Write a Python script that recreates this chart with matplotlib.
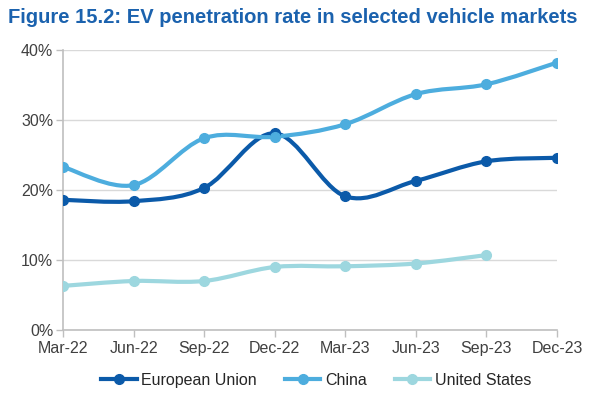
import numpy as np
import matplotlib.pyplot as plt
from matplotlib.path import Path
from matplotlib.patches import PathPatch
from matplotlib.lines import Line2D

# data (%)
quarters = ['Mar-22', 'Jun-22', 'Sep-22', 'Dec-22', 'Mar-23', 'Jun-23', 'Sep-23', 'Dec-23']
eu = [18.6, 18.4, 20.3, 28.1, 19.1, 21.3, 24.1, 24.6]
china = [23.3, 20.7, 27.4, 27.6, 29.4, 33.7, 35.1, 38.2]
us = [6.3, 7.0, 7.0, 9.0, 9.1, 9.5, 10.7]

series = [
    ('European Union', eu, '#0B5AA9'),
    ('China', china, '#4DADDE'),
    ('United States', us, '#9DD7DF'),
]

plt.rcParams['font.family'] = ['Liberation Sans', 'DejaVu Sans']


def smooth_path(x, y):
    # Excel-style smoothed line as cubic Bezier segments
    x = np.asarray(x, float)
    y = np.asarray(y, float)
    n = len(x)
    verts = [(x[0], y[0])]
    codes = [Path.MOVETO]
    for i in range(n - 1):
        x0, y0 = (x[i - 1], y[i - 1]) if i > 0 else (x[i], y[i])
        x3, y3 = (x[i + 2], y[i + 2]) if i + 2 < n else (x[i + 1], y[i + 1])
        c1 = (x[i] + (x[i + 1] - x0) / 6, y[i] + (y[i + 1] - y0) / 6)
        c2 = (x[i + 1] - (x3 - x[i]) / 6, y[i + 1] - (y3 - y[i]) / 6)
        verts += [c1, c2, (x[i + 1], y[i + 1])]
        codes += [Path.CURVE4] * 3
    return Path(verts, codes)


fig = plt.figure(figsize=(5.91, 3.94), dpi=100)
ax = fig.add_axes([63 / 591, 1 - 330 / 394, (557 - 63) / 591, 280 / 394])

handles = []
for name, vals, col in series:
    xs = np.arange(len(vals))
    ax.add_patch(PathPatch(smooth_path(xs, vals), facecolor='none', edgecolor=col,
                           lw=3, capstyle='round', joinstyle='round', zorder=3))
    ax.plot(xs, vals, 'o', color=col, ms=7, zorder=4)
    handles.append(Line2D([], [], color=col, lw=3, marker='o', ms=7))

ax.set_xlim(0, len(quarters) - 1)
ax.set_ylim(0, 40)
ax.set_xticks(range(len(quarters)))
ax.set_xticklabels(quarters)
ax.set_yticks([0, 10, 20, 30, 40])
ax.set_yticklabels([f'{v}%' for v in [0, 10, 20, 30, 40]])
ax.tick_params(axis='both', labelsize=11.5, colors='#BFBFBF', labelcolor='#404040',
               length=5, width=1)
ax.tick_params(axis='x', pad=3)
ax.tick_params(axis='y', pad=2)
ax.grid(axis='y', color='#D9D9D9', lw=1)
ax.set_axisbelow(True)
for s in ['top', 'right']:
    ax.spines[s].set_visible(False)
for s in ['left', 'bottom']:
    ax.spines[s].set_color('#BFBFBF')
    ax.spines[s].set_linewidth(1.2)

fig.text(0.013, 0.955, 'Figure 15.2: EV penetration rate in selected vehicle markets',
         fontsize=14.5, fontweight='bold', color='#1B62AE', ha='left', va='center')

fig.legend(handles, [s[0] for s in series], loc='center', bbox_to_anchor=(0.535, 0.035),
           ncol=3, frameon=False, fontsize=11.5, handlelength=2.2, handletextpad=0.3,
           columnspacing=1.75, labelcolor='#262626')

fig.savefig('out.png', dpi=100)
